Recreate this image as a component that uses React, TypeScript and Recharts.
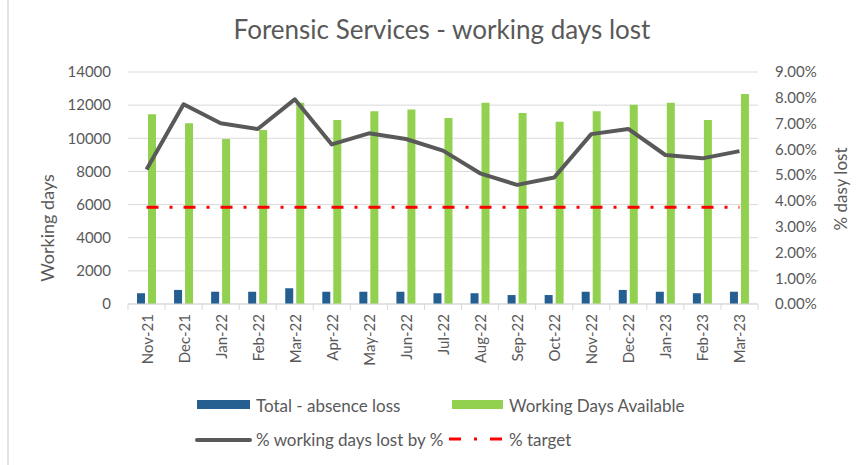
import React from "react";
import {
  ComposedChart,
  Bar,
  Line,
  XAxis,
  YAxis,
  CartesianGrid,
  Legend,
} from "recharts";

const months = [
  "Nov-21", "Dec-21", "Jan-22", "Feb-22", "Mar-22", "Apr-22", "May-22", "Jun-22",
  "Jul-22", "Aug-22", "Sep-22", "Oct-22", "Nov-22", "Dec-22", "Jan-23", "Feb-23", "Mar-23",
];
const absenceLoss = [650, 850, 740, 740, 950, 740, 740, 740, 650, 650, 540, 540, 740, 850, 740, 650, 740];
const daysAvailable = [11450, 10900, 9960, 10500, 12150, 11100, 11630, 11730, 11220, 12150, 11530, 11000, 11630, 12030, 12150, 11100, 12670];
const pctLost = [5.22, 7.75, 7.01, 6.79, 7.94, 6.19, 6.62, 6.4, 5.95, 5.07, 4.62, 4.91, 6.59, 6.79, 5.78, 5.65, 5.93];
const targetPct = 3.75;

const leftTicks = [0, 2000, 4000, 6000, 8000, 10000, 12000, 14000];
const rightTicks = [0, 1, 2, 3, 4, 5, 6, 7, 8, 9];

const data = months.map((m, i) => ({
  month: m,
  absence: absenceLoss[i],
  available: daysAvailable[i],
  pct: pctLost[i],
  target: targetPct,
}));

const FONT = "Lato, 'DejaVu Sans', sans-serif";
const TXT = "#595959";

const XTick = (props: any) => {
  const { x, y, payload, width, visibleTicksCount, index } = props;
  const band = width / visibleTicksCount;
  const axisY = y - 8;
  return (
    <g>
      <line x1={x - band / 2} x2={x - band / 2} y1={axisY} y2={axisY + 6} stroke="#d9d9d9" />
      {index === visibleTicksCount - 1 && (
        <line x1={x + band / 2} x2={x + band / 2} y1={axisY} y2={axisY + 6} stroke="#d9d9d9" />
      )}
      <text
        transform={`translate(${x},${y + 2}) rotate(-90)`}
        textAnchor="end"
        dominantBaseline="central"
        fill={TXT}
        fontSize={15}
        fontFamily={FONT}
      >
        {payload.value}
      </text>
    </g>
  );
};

const LegendContent = () => (
  <div style={{ position: "relative", width: 864, height: 70, fontFamily: FONT, color: TXT }}>
    <svg width={864} height={70} style={{ position: "absolute", left: 0, top: 0 }}>
      <rect x={197} y={15} width={53} height={9} fill="#255e91" />
      <rect x={452} y={15} width={51} height={9} fill="#92d050" />
      <line x1={197} x2={250} y1={55} y2={55} stroke="#595959" strokeWidth={4} strokeLinecap="round" />
      <line x1={449} x2={502} y1={54} y2={54} stroke="#ff0000" strokeWidth={3} strokeDasharray="12 13 3 13" />
      <text x={256} y={20} dominantBaseline="central" fill={TXT} fontSize={17} fontFamily={FONT}>Total - absence loss</text>
      <text x={509} y={20} dominantBaseline="central" fill={TXT} fontSize={17} fontFamily={FONT}>Working Days Available</text>
      <text x={256} y={54} dominantBaseline="central" fill={TXT} fontSize={17} fontFamily={FONT}>% working days lost by %</text>
      <text x={509} y={54} dominantBaseline="central" fill={TXT} fontSize={17} fontFamily={FONT}>% target</text>
    </svg>
  </div>
);

export default function App() {
  return (
    <div style={{ position: "absolute", left: 0, top: 0, width: 864, height: 465, background: "#fff" }}>
      <div style={{ position: "absolute", left: 7, top: 0, width: 2, height: 465, background: "#e3e3e3" }} />
      <div
        style={{
          position: "absolute",
          left: 0,
          width: 884,
          top: 12,
          textAlign: "center",
          fontFamily: FONT,
          fontSize: 26,
          color: TXT,
          lineHeight: "34px",
        }}
      >
        Forensic Services - working days lost
      </div>
      <ComposedChart
        width={864}
        height={465}
        data={data}
        margin={{ top: 72, right: 0, bottom: 10, left: 0 }}
        barSize={8}
        barGap={3}
      >
        <CartesianGrid yAxisId="left" vertical={false} stroke="#d9d9d9" />
        <XAxis
          dataKey="month"
          interval={0}
          height={81}
          tickLine={false}
          axisLine={{ stroke: "#d9d9d9" }}
          tick={<XTick />}
        />
        <YAxis
          yAxisId="left"
          width={128}
          domain={[0, 14000]}
          ticks={leftTicks}
          tickSize={0}
          tickMargin={17}
          axisLine={false}
          tickLine={false}
          tick={{ fill: TXT, fontSize: 15, fontFamily: FONT }}
          label={(p: any) => (
            <text
              transform="translate(47,228) rotate(-90)"
              textAnchor="middle"
              dominantBaseline="central"
              fill={TXT}
              fontSize={18}
              fontFamily={FONT}
            >
              Working days
            </text>
          )}
        />
        <YAxis
          yAxisId="right"
          orientation="right"
          width={106}
          domain={[0, 9]}
          ticks={rightTicks}
          tickSize={0}
          tickMargin={17}
          axisLine={false}
          tickLine={false}
          tickFormatter={(v: number) => `${v.toFixed(2)}%`}
          tick={{ fill: TXT, fontSize: 15, fontFamily: FONT, textAnchor: "start" }}
          label={(p: any) => (
            <text
              transform="translate(840,189) rotate(-90)"
              textAnchor="middle"
              dominantBaseline="central"
              fill={TXT}
              fontSize={17}
              fontFamily={FONT}
            >
              % dasy lost
            </text>
          )}
        />
        <Bar yAxisId="left" dataKey="absence" name="Total - absence loss" fill="#255e91" isAnimationActive={false} />
        <Bar yAxisId="left" dataKey="available" name="Working Days Available" fill="#92d050" isAnimationActive={false} />
        <Line
          yAxisId="right"
          dataKey="pct"
          name="% working days lost by %"
          stroke="#595959"
          strokeWidth={4}
          dot={false}
          strokeLinejoin="round"
          isAnimationActive={false}
        />
        <Line
          yAxisId="right"
          dataKey="target"
          name="% target"
          stroke="#ff0000"
          strokeWidth={3}
          strokeDasharray="12 11 3 11"
          dot={false}
          isAnimationActive={false}
        />
        <Legend verticalAlign="bottom" height={70} content={<LegendContent />} />
      </ComposedChart>
    </div>
  );
}
